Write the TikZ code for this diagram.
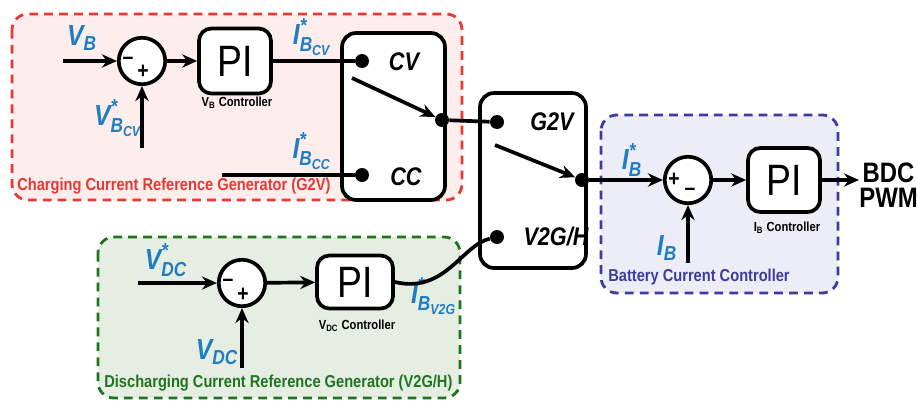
\documentclass[tikz,border=0pt]{standalone}
\usepackage{amsmath}
\usepackage{fontspec}
\setmainfont{Liberation Sans}[FakeStretch=0.85]
\usetikzlibrary{arrows.meta,positioning}
\usepackage{xcolor}
\definecolor{chgRed}{HTML}{E53935}
\definecolor{chgFill}{HTML}{FDEDEC}
\definecolor{dchGreen}{HTML}{1F7420}
\definecolor{dchFill}{HTML}{E6EEE4}
\definecolor{batBlue}{HTML}{3C3C9E}
\definecolor{batFill}{HTML}{EDEDF8}
\definecolor{sigBlue}{HTML}{1F7DC4}

\begin{document}
\begin{tikzpicture}[
  x=0.02cm, y=-0.02cm,
  >={Stealth[length=8.5pt,width=7.5pt]},
  region/.style={line width=1.6pt, dash pattern=on 5pt off 3.5pt, rounded corners=9pt},
  sigline/.style={line width=2.1pt},
  piblock/.style={draw, line width=2.1pt, fill=white, rounded corners=7pt, minimum width=1.44cm, minimum height=1.3cm, inner sep=0pt, font=\fontsize{25}{25}\selectfont},
  selbox/.style={draw, line width=2.1pt, fill=white, rounded corners=8pt, inner sep=0pt},
  sumnode/.style={draw, circle, line width=2.1pt, fill=white, minimum size=0.93cm, inner sep=0pt},
  dotnode/.style={circle, fill=black, minimum size=0.28cm, inner sep=0pt},
  sgn/.style={inner sep=0pt, font=\fontsize{13}{13}\selectfont\bfseries},
  sigl/.style={inner sep=0pt, text=sigBlue, font=\fontsize{16.5}{16.5}\selectfont\bfseries\itshape},
  swl/.style={inner sep=0pt, font=\fontsize{14.5}{14.5}\selectfont\bfseries\itshape},
  ctl/.style={inner sep=0pt, font=\fontsize{7.5}{8}\selectfont\bfseries},
  grp/.style={inner sep=0pt, anchor=west, font=\fontsize{9.8}{10}\selectfont\bfseries}
]
  \useasboundingbox (0,0) rectangle (917,403);

  % Regions
  \draw[region, draw=chgRed, fill=chgFill] (12,14) rectangle (462,200);
  \draw[region, draw=dchGreen, fill=dchFill] (98,237) rectangle (460,398);
  \draw[region, draw=batBlue, fill=batFill] (601,115) rectangle (838,293);
  \node[grp, text=chgRed] (grpG2V) at (17,186) {Charging Current Reference Generator (G2V)};
  \node[grp, text=dchGreen] (grpV2G) at (104,383) {Discharging Current Reference Generator (V2G/H)};
  \node[grp, text=batBlue] (grpBat) at (608,277) {Battery Current Controller};

  % Charging (CV) loop
  \coordinate (inVB) at (63,61);
  \coordinate (inVBref) at (142,148);
  \node[sumnode] (sumVB) at (142,61) {};
  \node[sgn] (sgnVBm) at ([shift={(-14,0)}]sumVB.center) {\textendash};
  \node[sgn] (sgnVBp) at ([shift={(1,11)}]sumVB.center) {+};
  \node[piblock] (piVB) at (235,61) {PI};
  \node[ctl] (ctlVB) at (237,103) {V\textsubscript{B} Controller};
  \node[sigl] (lblVB) at (82,38) {$\text{V}_{\text{B}}$};
  \node[sigl] (lblVBref) at (118,118) {$\text{V}^{\text{*}}_{\text{B}_{\text{CV}}}$};
  \node[sigl] (lblIBcv) at (312,37) {$\text{I}^{\text{*}}_{\text{B}_{\text{CV}}}$};
  \node[sigl] (lblIBcc) at (312,151) {$\text{I}^{\text{*}}_{\text{B}_{\text{CC}}}$};

  % CV / CC selector
  \node[selbox, minimum width=2.06cm, minimum height=3.34cm] (selA) at (393.5,116.5) {};
  \node[dotnode] (dotCV) at (362,61) {};
  \node[dotnode] (dotCC) at (362,175) {};
  \node[dotnode] (dotSelA) at (442,120) {};
  \node[swl] (lblCV) at (404,62) {CV};
  \node[swl] (lblCC) at (406,177) {CC};
  \coordinate (swA) at (352,78);
  \coordinate (inCC) at (222,175);

  \draw[->, sigline] (inVB) -- (sumVB);
  \draw[->, sigline] (inVBref) -- (sumVB);
  \draw[->, sigline] (sumVB) -- (piVB);
  \draw[sigline] (piVB) -- (dotCV);
  \draw[sigline] (inCC) -- (dotCC);
  \draw[->, sigline] (swA) -- (dotSelA);

  % G2V / V2G selector
  \node[selbox, minimum width=2.12cm, minimum height=3.5cm] (selB) at (533,180.5) {};
  \node[dotnode] (dotG2V) at (497,122) {};
  \node[dotnode] (dotV2G) at (497,237) {};
  \node[dotnode] (dotSelB) at (582,180) {};
  \node[swl] (lblG2V) at (552,122) {G2V};
  \node[swl] (lblV2G) at (556,237) {V2G/H};
  \coordinate (swB) at (495,145);

  \draw[sigline] (dotSelA) -- (dotG2V);
  \draw[->, sigline] (swB) -- (dotSelB);

  % Discharging loop
  \coordinate (inVDC) at (138,283);
  \coordinate (inVDCfb) at (242,368);
  \node[sumnode] (sumDC) at (242,283) {};
  \node[sgn] (sgnDCm) at ([shift={(-14,0)}]sumDC.center) {\textendash};
  \node[sgn] (sgnDCp) at ([shift={(1,12)}]sumDC.center) {+};
  \node[piblock, minimum width=1.52cm, minimum height=1.06cm] (piDC) at (355,282) {PI};
  \node[ctl] (ctlDC) at (357,326) {V\textsubscript{DC} Controller};
  \node[sigl] (lblVDCref) at (166,260) {$\text{V}^{\text{*}}_{\text{DC}}$};
  \node[sigl] (lblVDC) at (217,352) {$\text{V}_{\text{DC}}$};
  \node[sigl] (lblIBv2g) at (434,296) {$\text{I}^{\text{*}}_{\text{B}_{\text{V2G}}}$};

  \draw[->, sigline] (inVDC) -- (sumDC);
  \draw[->, sigline] (inVDCfb) -- (sumDC);
  \draw[->, sigline] (sumDC) -- (piDC);
  \draw[sigline] (piDC.east) .. controls +(50,12) and +(-35,8) .. (dotV2G);

  % Battery current loop
  \coordinate (inIB) at (688,263);
  \node[sumnode] (sumIB) at (688,180) {};
  \node[sgn] (sgnIBp) at ([shift={(-14,0)}]sumIB.center) {+};
  \node[sgn] (sgnIBm) at ([shift={(2,12)}]sumIB.center) {\textendash};
  \node[piblock, minimum height=1.28cm] (piIB) at (784,180) {PI};
  \node[ctl] (ctlIB) at (787,228) {I\textsubscript{B} Controller};
  \node[sigl] (lblIBref) at (632,160) {$\text{I}^{\text{*}}_{\text{B}}$};
  \node[sigl] (lblIB) at (667,248) {$\text{I}_{\text{B}}$};
  \node[inner sep=0pt, anchor=west, align=center, font=\fontsize{16}{14.5}\selectfont\bfseries] (pwm) at (859,185) {BDC\\PWM};

  \draw[->, sigline] (dotSelB) -- (sumIB);
  \draw[->, sigline] (inIB) -- (sumIB);
  \draw[->, sigline] (sumIB) -- (piIB);
  \draw[->, sigline] (piIB.east) -- (piIB.east -| pwm.west);

\end{tikzpicture}
\end{document}
